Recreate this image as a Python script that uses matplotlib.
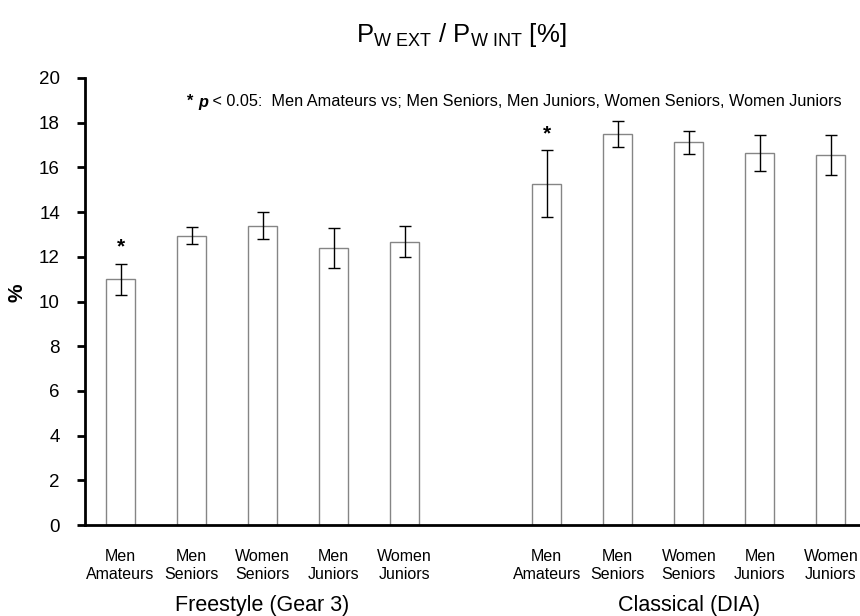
import numpy as np
import matplotlib
matplotlib.use("Agg")
import matplotlib.pyplot as plt

plt.rcParams['font.family'] = ['Liberation Sans', 'DejaVu Sans']
plt.rcParams['mathtext.fontset'] = 'custom'
plt.rcParams['mathtext.rm'] = 'Liberation Sans'
plt.rcParams['mathtext.it'] = 'Liberation Sans:italic'
plt.rcParams['mathtext.bf'] = 'Liberation Sans:bold'

# data
categories = ["Men\nAmateurs", "Men\nSeniors", "Women\nSeniors", "Men\nJuniors", "Women\nJuniors"]
groups = ["Freestyle (Gear 3)", "Classical (DIA)"]
freestyle_mean = [11.0, 12.95, 13.4, 12.4, 12.68]
freestyle_err = [0.69, 0.39, 0.6, 0.89, 0.7]
classical_mean = [15.26, 17.5, 17.12, 16.64, 16.55]
classical_err = [1.5, 0.59, 0.51, 0.8, 0.88]
signif_bars = [0]  # index of bars marked with *
yticks = list(range(0, 21, 2))

fig = plt.figure(figsize=(8.6, 6.16), dpi=100)
ax = fig.add_axes([85 / 860, 1 - 525 / 616, 775 / 860, (525 - 78) / 616])

n = len(categories)
x1 = np.arange(n)
x2 = np.arange(n) + n + 1
bar_kw = dict(width=0.41, color='white', edgecolor='#858585', linewidth=1.0, zorder=2)
err_kw = dict(fmt='none', ecolor='black', elinewidth=1.0, capsize=4.3, capthick=1.0, zorder=3)

ax.bar(x1, freestyle_mean, **bar_kw)
ax.errorbar(x1, freestyle_mean, yerr=freestyle_err, **err_kw)
ax.bar(x2, classical_mean, **bar_kw)
ax.errorbar(x2, classical_mean, yerr=classical_err, **err_kw)

for i in signif_bars:
    ax.text(x1[i], freestyle_mean[i] + freestyle_err[i] + 0.75, "*", ha='center', va='center',
            fontsize=15, fontweight='bold')
    ax.text(x2[i], classical_mean[i] + classical_err[i] + 0.75, "*", ha='center', va='center',
            fontsize=15, fontweight='bold')

ax.set_xlim(-0.5, 10.41)
ax.set_ylim(0, 20)
ax.set_yticks(yticks)
ax.tick_params(axis='y', direction='out', length=6, width=2, labelsize=13.5, pad=12)
ax.set_xticks(list(x1) + list(x2))
ax.set_xticklabels(categories * 2, fontsize=11.5, linespacing=1.25)
ax.tick_params(axis='x', length=0, pad=17)
for s in ['top', 'right']:
    ax.spines[s].set_visible(False)
ax.spines['left'].set_linewidth(2.0)
ax.spines['bottom'].set_linewidth(2.0)

ax.set_ylabel("%", fontsize=15, fontweight='bold')
ax.yaxis.set_label_coords(-(85 - 27) / 775, 0.52)

# group labels
for xc, g in zip([x1.mean(), x2.mean()], groups):
    ax.text(xc, -0.18, g, transform=ax.get_xaxis_transform(), ha='center', va='center', fontsize=15.5)

# title
fig.text(461 / 860, 1 - 42 / 616, r"P$_{\mathrm{W\ EXT}}$ / P$_{\mathrm{W\ INT}}$ [%]",
         ha='center', va='baseline', fontsize=18.5)

# significance note built piece by piece
fig.canvas.draw()
renderer = fig.canvas.get_renderer()
pieces = [("* ", dict(fontweight='bold')),
          ("p", dict(fontweight='bold', fontstyle='italic')),
          (" < 0.05:  Men Amateurs vs; Men Seniors, Men Juniors, Women Seniors, Women Juniors", {})]
xpos = 187
for txt, kw in pieces:
    t = fig.text(xpos / 860, 1 - 102 / 616, txt, ha='left', va='center', fontsize=11.7, **kw)
    bb = t.get_window_extent(renderer=renderer)
    xpos += bb.width

fig.savefig("out.png", dpi=100)
